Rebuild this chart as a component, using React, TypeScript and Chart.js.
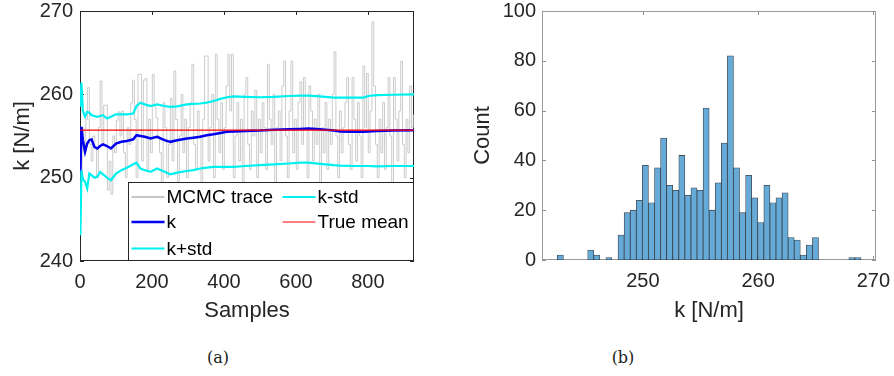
import React, { useEffect, useRef } from 'react';
import { Chart, registerables } from 'chart.js';

Chart.register(...registerables);

const FONT = '"Liberation Sans", Arial, Helvetica, sans-serif';
const INK = '#262626';

// ---- (a) MCMC chain for k, stored every TRACE_STRIDE samples (first sample is 1) ----
const TRACE_STRIDE = 5;
const traceValues = [
  250.5, 256, 253, 257, 260.8, 254, 252, 255, 253.5, 250,
  256, 261.6, 254, 258.7, 258.7, 248.5, 252, 248, 255, 253,
  256.9, 257.9, 255, 258, 253, 250, 256, 254, 259, 261.7,
  257, 250, 262.4, 262.4, 252, 261.7, 261.9, 251, 257, 253,
  262.4, 258.5, 257.2, 255, 253, 249, 259, 256, 250, 254,
  259.5, 252, 262.8, 257, 248, 255, 260, 253, 257, 250,
  256, 259, 263.6, 254, 251, 258, 255, 249, 257, 264.6,
  264.6, 252, 256, 260, 250, 264.8, 257, 253, 259, 251,
  256, 261, 264.8, 258, 264.8, 250, 255, 259, 252, 257,
  249, 260, 262, 254, 251, 258, 255, 260.5, 250, 257,
  253, 259, 256, 251, 263.6, 257, 254, 260, 249, 256,
  258, 252, 261, 264, 255, 250, 258, 264, 253, 257,
  251, 259, 261.5, 254, 262, 256, 250, 261, 258, 252,
  257, 254, 260, 249, 256, 253, 259, 251, 257, 254,
  260, 265.1, 255, 250, 258, 253, 256, 259, 262, 254,
  251, 262, 257, 252, 259, 255, 250, 263.4, 256, 262.5,
  253, 258, 268.7, 261, 254, 250, 257, 253, 259, 251,
  256, 262, 255, 249, 262, 257, 252, 258, 264, 254,
  250, 257, 253, 261, 256, 257.5, 257.5,
];

// running statistics of the chain
const runSamples = [
  1, 4, 8, 14, 20, 26, 32, 40, 48, 56, 64, 75, 86, 100, 115, 130, 148, 157,
  168, 180, 196, 214, 235, 251, 270, 297, 315, 334, 352, 371, 390, 408, 427,
  460, 500, 538, 580, 612, 635, 667, 705, 723, 760, 788, 800, 825, 870, 928,
];
const kMean = [
  250.5, 256.1, 254.5, 253.1, 254.1, 254.5, 254.6, 253.7, 253.5, 253.8, 254.0,
  253.8, 253.5, 254.1, 254.3, 254.4, 254.6, 255.1, 255.0, 254.9, 254.7, 254.9,
  254.5, 254.3, 254.5, 254.7, 254.8, 254.9, 255.1, 255.2, 255.35, 255.5, 255.55,
  255.6, 255.65, 255.75, 255.8, 255.85, 255.9, 255.8, 255.65, 255.55, 255.5,
  255.5, 255.55, 255.6, 255.65, 255.7,
];
const kPlusStd = [
  258.5, 261.4, 258.0, 257.3, 257.9, 257.8, 257.5, 257.4, 257.3, 257.4, 257.5,
  257.1, 257.3, 257.6, 257.6, 257.6, 257.7, 258.6, 259.0, 258.8, 258.6, 258.8,
  258.6, 258.5, 258.55, 258.8, 258.85, 258.9, 259.0, 259.2, 259.45, 259.65,
  259.75, 259.7, 259.65, 259.7, 259.8, 259.85, 259.85, 259.75, 259.6, 259.6,
  259.6, 259.6, 259.8, 259.9, 259.95, 260.0,
];
const kMinusStd = [
  243.1, 250.9, 249.8, 249.5, 248.7, 250.5, 250.3, 250.0, 250.1, 250.7, 250.4,
  250.0, 249.7, 250.5, 250.9, 251.2, 251.6, 251.8, 251.1, 250.9, 250.7, 251.1,
  250.7, 250.4, 250.6, 250.8, 250.9, 251.1, 251.2, 251.3, 251.3, 251.3, 251.3,
  251.4, 251.5, 251.6, 251.7, 251.8, 251.8, 251.65, 251.5, 251.45, 251.4, 251.4,
  251.4, 251.35, 251.4, 251.4,
];
const trueMean = 255.7;
const sampleMax = 928;
const kAxisMin = 240;
const kAxisMax = 270;

// ---- (b) histogram of k ----
const binStart = 242.58;
const binWidth = 0.527;
const binCounts = [
  2, 0, 0, 0, 0, 4, 2, 0, 1, 0,
  10, 19, 20, 24, 38, 23, 37, 49, 30, 28,
  42, 26, 29, 28, 61, 20, 31, 47, 82, 37,
  19, 34, 25, 15, 30, 23, 25, 27, 9, 8,
  2, 6, 9, 0, 0, 0, 0, 0, 1, 1,
];
const histMin = 241.25;
const histMax = 270.23;

const zip = (xs: number[], ys: number[]) => xs.map((x, i) => ({ x, y: ys[i] }));

// keep the plot box exactly where the layout padding puts it
const fixWidth = (w: number) => (s: any) => {
  s.width = w;
  s.paddingTop = 0;
  s.paddingBottom = 0;
};
const fixHeight = (h: number) => (s: any) => {
  s.height = h;
  s.paddingLeft = 0;
  s.paddingRight = 0;
};

// box around the axes with MATLAB-style inward tick marks, drawn beneath the data
const framePlugin = {
  id: 'frame',
  beforeDatasetsDraw(chart: any, _args: any, opts: any) {
    const { ctx, chartArea, scales } = chart;
    const { left, right, top, bottom } = chartArea;
    const len = opts.tickLength ?? 4;
    ctx.save();
    ctx.strokeStyle = opts.color;
    ctx.lineWidth = 1;
    ctx.beginPath();
    scales.x.ticks.forEach((t: any) => {
      const px = Math.round(scales.x.getPixelForValue(t.value)) + 0.5;
      ctx.moveTo(px, bottom);
      ctx.lineTo(px, bottom - len);
      ctx.moveTo(px, top);
      ctx.lineTo(px, top + len);
    });
    scales.y.ticks.forEach((t: any) => {
      const py = Math.round(scales.y.getPixelForValue(t.value)) + 0.5;
      ctx.moveTo(left, py);
      ctx.lineTo(left + len, py);
      ctx.moveTo(right, py);
      ctx.lineTo(right - len, py);
    });
    ctx.stroke();
    ctx.strokeStyle = opts.boxColor ?? opts.color;
    ctx.strokeRect(Math.round(left) + 0.5, Math.round(top) + 0.5, Math.round(right - left) - 1, Math.round(bottom - top) - 1);
    ctx.restore();
  },
};

// two-column legend in the lower right corner, filled column by column
const cornerLegendPlugin = {
  id: 'cornerLegend',
  afterDraw(chart: any) {
    const { ctx, chartArea } = chart;
    const w = 286;
    const h = 79;
    const x0 = Math.round(chartArea.right - w);
    const y0 = Math.round(chartArea.bottom - h);
    ctx.save();
    ctx.fillStyle = '#ffffff';
    ctx.fillRect(x0, y0, w, h);
    ctx.strokeStyle = INK;
    ctx.lineWidth = 1;
    ctx.strokeRect(x0 + 0.5, y0 + 0.5, w - 1, h - 1);
    const rows = [15, 40, 66.5];
    const cols = [3.5, 154.5];
    ctx.font = `19px ${FONT}`;
    ctx.textBaseline = 'middle';
    ctx.textAlign = 'left';
    chart.data.datasets.forEach((d: any, i: number) => {
      const lx = x0 + cols[Math.floor(i / 3)];
      const ly = y0 + rows[i % 3];
      ctx.strokeStyle = d.borderColor;
      ctx.lineWidth = d.legendWidth ?? d.borderWidth;
      ctx.beginPath();
      ctx.moveTo(lx, ly);
      ctx.lineTo(lx + 33, ly);
      ctx.stroke();
      ctx.fillStyle = '#000000';
      ctx.fillText(d.label, lx + 35, ly + 1);
    });
    ctx.restore();
  },
};

const tickFont = { family: FONT, size: 20 };
const titleFont = { family: FONT, size: 22 };

function TraceChart() {
  const ref = useRef<HTMLCanvasElement | null>(null);
  useEffect(() => {
    if (!ref.current) return;
    const traceData = traceValues.map((v, i) => ({ x: 1 + i * TRACE_STRIDE, y: v }));
    const chart = new Chart(ref.current, {
      type: 'line',
      data: {
        datasets: [
          { label: 'MCMC trace', data: traceData, borderColor: '#c6c6c6', borderWidth: 0.9, legendWidth: 2, stepped: true, order: 5 } as any,
          { label: 'k', data: zip(runSamples, kMean), borderColor: '#0000ee', borderWidth: 2.5, order: 3 },
          { label: 'k+std', data: zip(runSamples, kPlusStd), borderColor: '#00f0f0', borderWidth: 2.2, order: 2 },
          { label: 'k-std', data: zip(runSamples, kMinusStd), borderColor: '#00f0f0', borderWidth: 2.2, order: 1 },
          { label: 'True mean', data: [{ x: 1, y: trueMean }, { x: sampleMax, y: trueMean }], borderColor: '#ff0000', borderWidth: 1.4, legendWidth: 1, order: 0 } as any,
        ],
      },
      options: {
        animation: false,
        responsive: false,
        events: [],
        elements: { point: { radius: 0 }, line: { tension: 0 } },
        layout: { padding: { left: 0, right: 26, top: 11, bottom: 0 } },
        plugins: {
          legend: { display: false },
          tooltip: { enabled: false },
          frame: { color: INK, tickLength: 4 },
        } as any,
        scales: {
          x: {
            type: 'linear',
            min: 0,
            max: sampleMax,
            grid: { display: false, drawTicks: false },
            border: { display: false },
            ticks: { stepSize: 200, includeBounds: false, color: INK, font: tickFont, padding: 9, maxRotation: 0 },
            title: { display: true, text: 'Samples', color: INK, font: titleFont, padding: { top: 0, bottom: 6 } },
            afterFit: fixHeight(69),
          },
          y: {
            type: 'linear',
            min: kAxisMin,
            max: kAxisMax,
            grid: { display: false, drawTicks: false },
            border: { display: false },
            ticks: { stepSize: 10, color: INK, font: tickFont, padding: 7 },
            title: { display: true, text: 'k [N/m]', color: INK, font: titleFont, padding: { top: 10, bottom: 0 } },
            afterFit: fixWidth(80),
          },
        },
      },
      plugins: [framePlugin, cornerLegendPlugin],
    });
    return () => chart.destroy();
  }, []);
  return <canvas ref={ref} width={440} height={330} style={{ position: 'absolute', left: 0, top: 0, width: 440, height: 330 }} />;
}

function HistChart() {
  const ref = useRef<HTMLCanvasElement | null>(null);
  useEffect(() => {
    if (!ref.current) return;
    const bars = binCounts.map((c, i) => ({ x: binStart + (i + 0.5) * binWidth, y: c }));
    const chart = new Chart(ref.current, {
      type: 'bar',
      data: {
        datasets: [
          {
            label: 'k',
            data: bars,
            backgroundColor: 'rgb(102,170,215)',
            borderColor: 'rgba(30,40,50,0.85)',
            borderWidth: 0.8,
            borderSkipped: false,
            barPercentage: 1,
            categoryPercentage: 1,
          },
        ],
      },
      options: {
        animation: false,
        responsive: false,
        events: [],
        layout: { padding: { left: 0, right: 18, top: 11, bottom: 0 } },
        plugins: {
          legend: { display: false },
          tooltip: { enabled: false },
          frame: { color: '#8f8f8f', boxColor: '#9a9a9a', tickLength: 4 },
        } as any,
        scales: {
          x: {
            type: 'linear',
            min: histMin,
            max: histMax,
            offset: false,
            grid: { display: false, drawTicks: false },
            border: { display: false },
            ticks: { stepSize: 10, includeBounds: false, color: INK, font: tickFont, padding: 9, maxRotation: 0 },
            title: { display: true, text: 'k [N/m]', color: INK, font: titleFont, padding: { top: 0, bottom: 6 } },
            afterFit: fixHeight(70),
          },
          y: {
            type: 'linear',
            min: 0,
            max: 100,
            grid: { display: false, drawTicks: false },
            border: { display: false },
            ticks: { stepSize: 20, color: INK, font: tickFont, padding: 6 },
            title: { display: true, text: 'Count', color: INK, font: titleFont, padding: { top: 30, bottom: 0 } },
            afterFit: fixWidth(102),
          },
        },
      },
      plugins: [framePlugin],
    });
    return () => chart.destroy();
  }, []);
  return <canvas ref={ref} width={454} height={330} style={{ position: 'absolute', left: 440, top: 0, width: 454, height: 330 }} />;
}

const captionStyle: React.CSSProperties = {
  position: 'absolute',
  top: 346,
  width: 60,
  textAlign: 'center',
  fontFamily: '"DejaVu Serif", "Liberation Serif", serif',
  fontSize: 16,
  lineHeight: '24px',
  color: '#222',
};

export default function App() {
  return (
    <div style={{ position: 'absolute', left: 0, top: 0, width: 894, height: 376, background: '#ffffff', overflow: 'hidden' }}>
      <TraceChart />
      <HistChart />
      <div style={{ ...captionStyle, left: 188 }}>(a)</div>
      <div style={{ ...captionStyle, left: 593 }}>(b)</div>
    </div>
  );
}
